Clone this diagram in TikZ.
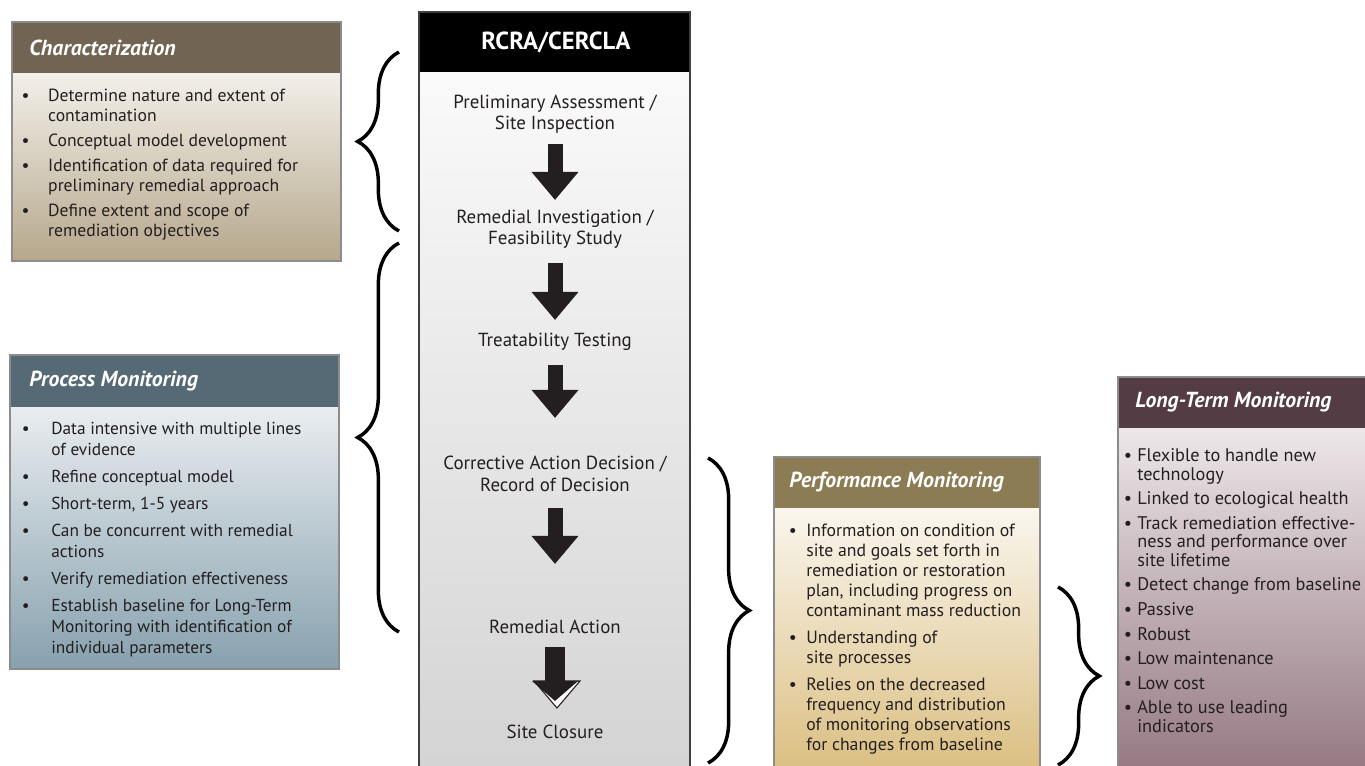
\documentclass[tikz,border=0pt]{standalone}
\usepackage{fontspec}
\setmainfont{PT Sans}
\usepackage{xcolor}
\usetikzlibrary{arrows.meta,decorations.pathreplacing}

\definecolor{charhead}{HTML}{716452}
\definecolor{chartop}{HTML}{F3F0EA}
\definecolor{charbot}{HTML}{B6A78C}
\definecolor{prochead}{HTML}{566A75}
\definecolor{proctop}{HTML}{E9EDF0}
\definecolor{procbot}{HTML}{87A1AE}
\definecolor{perfhead}{HTML}{8C7C54}
\definecolor{perftop}{HTML}{FAF6EE}
\definecolor{perfbot}{HTML}{DBBF82}
\definecolor{ltmhead}{HTML}{533C44}
\definecolor{ltmtop}{HTML}{EDE7E9}
\definecolor{ltmbot}{HTML}{957983}
\definecolor{inkblack}{HTML}{231F20}

\newcommand{\bl}{\textbullet}

\tikzset{
  boxline/.style={draw=black!45, line width=0.8pt},
  headtext/.style={anchor=west, inner sep=0pt, text=white, font=\fontsize{16.3}{18}\selectfont\bfseries\itshape},
  bodytext/.style={anchor=north west, inner sep=0pt, text=inkblack, font=\fontsize{13.2}{15}\selectfont},
  steptext/.style={align=center, inner sep=0pt, text=inkblack, font=\fontsize{14.2}{16}\selectfont},
  blockarrow/.style={line width=11.25pt, draw=inkblack, -{Triangle[width=33.75pt,length=21pt]}},
  bracket/.style={decorate, decoration={brace, amplitude=31pt}, line width=2.6pt, draw=black},
}

\begin{document}
\begin{tikzpicture}[x=0.75pt,y=0.75pt,yscale=-1,xscale=1]
    \useasboundingbox (0,0) rectangle (1365,766);

    %Shape: Rectangle [characterization]
    \shade[top color=chartop, bottom color=charbot] (12,73) rectangle (341,261);
    \fill[charhead] (12,22) rectangle (341,73);
    \draw[boxline] (12,22) rectangle (341,261);
    %Shape: Rectangle [process monitoring]
    \shade[top color=proctop, bottom color=procbot] (10,407) rectangle (339,669);
    \fill[prochead] (10,355) rectangle (339,407);
    \draw[boxline] (10,355) rectangle (339,669);
    %Shape: Rectangle [performance monitoring]
    \shade[top color=perftop, bottom color=perfbot] (774,508) rectangle (1040,770);
    \fill[perfhead] (774,457) rectangle (1040,508);
    \draw[boxline] (774,457) rectangle (1040,770);
    %Shape: Rectangle [long-term monitoring]
    \shade[top color=ltmtop, bottom color=ltmbot] (1118,428) rectangle (1370,770);
    \fill[ltmhead] (1118,377) rectangle (1370,428);
    \draw[boxline] (1118,377) rectangle (1370,770);
    %Shape: Rectangle [RCRA/CERCLA column]
    \shade[top color=black!2, bottom color=black!17] (419,72) rectangle (690,770);
    \fill[black] (419,12) rectangle (690,72);
    \draw[draw=black!75, line width=1pt] (419,12) rectangle (690,770);

    %Braces
    \draw[bracket] (399,231) -- (399,52);
    \draw[bracket] (399,632) -- (399,243);
    \draw[bracket] (708,458) -- (708,763);
    \draw[bracket] (1058,587) -- (1058,765);

    % Text Node
    \node[headtext] (charhd) at (29,47.5) {Characterization};
    % Text Node
    \node[headtext] (prochd) at (29,381) {Process Monitoring};
    % Text Node
    \node[headtext] (perfhd) at (789,482.5) {Performance Monitoring};
    % Text Node
    \node[headtext] (ltmhd) at (1135,402.5) {Long-Term Monitoring};
    % Text Node
    \node[text=white, inner sep=0pt, font=\fontsize{18.5}{20}\selectfont\bfseries] (rcra) at (556,42) {RCRA/CERCLA};

    % Text Node
    \node[bodytext] (charbody) at (21.3,87) {\begin{tabular}{@{}p{20pt}@{}l@{}}
      \bl & Determine nature and extent of\\
          & contamination\\[3.75pt]
      \bl & Conceptual model development\\[3.75pt]
      \bl & Identification of data required for\\
          & preliminary remedial approach\\[3.75pt]
      \bl & Define extent and scope of\\
          & remediation objectives
    \end{tabular}};
    % Text Node
    \node[bodytext, font=\fontsize{13}{15.75}\selectfont] (procbody) at (21.7,420) {\begin{tabular}{@{}p{22pt}@{}l@{}}
      \bl & Data intensive with multiple lines\\
          & of evidence\\[4.5pt]
      \bl & Refine conceptual model\\[4.5pt]
      \bl & Short-term, 1-5 years\\[4.5pt]
      \bl & Can be concurrent with remedial\\
          & actions\\[4.5pt]
      \bl & Verify remediation effectiveness\\[4.5pt]
      \bl & Establish baseline for Long-Term\\
          & Monitoring with identification of\\
          & individual parameters
    \end{tabular}};
    % Text Node
    \node[bodytext, font=\fontsize{13.3}{15}\selectfont] (perfbody) at (788.7,522) {\begin{tabular}{@{}p{13pt}@{}l@{}}
      \bl & Information on condition of\\
          & site and goals set forth in\\
          & remediation or restoration\\
          & plan, including progress on\\
          & contaminant mass reduction\\[5.25pt]
      \bl & Understanding of\\
          & site processes\\[5.25pt]
      \bl & Relies on the decreased\\
          & frequency and distribution\\
          & of monitoring observations\\
          & for changes from baseline
    \end{tabular}};
    % Text Node
    \node[bodytext, font=\fontsize{13.7}{14}\selectfont] (ltmbody) at (1123.7,448) {\begin{tabular}{@{}p{10pt}@{}l@{}}
      \bl & Flexible to handle new\\
          & technology\\[4.4pt]
      \bl & Linked to ecological health\\[4.4pt]
      \bl & Track remediation effective-\\
          & ness and performance over\\
          & site lifetime\\[4.4pt]
      \bl & Detect change from baseline\\[4.4pt]
      \bl & Passive\\[4.4pt]
      \bl & Robust\\[4.4pt]
      \bl & Low maintenance\\[4.4pt]
      \bl & Low cost\\[4.4pt]
      \bl & Able to use leading\\
          & indicators
    \end{tabular}};

    % Text Node
    \node[steptext] (pa) at (555,114) {Preliminary Assessment /\\Site Inspection};
    % Text Node
    \node[steptext] (ri) at (555,229) {Remedial Investigation /\\Feasibility Study};
    % Text Node
    \node[steptext] (tt) at (555,342) {Treatability Testing};
    % Text Node
    \node[steptext] (cad) at (555,474) {Corrective Action Decision /\\Record of Decision};
    % Text Node
    \node[steptext] (ra) at (555,627) {Remedial Action};
    % Text Node
    \node[steptext] (sc) at (555,732) {Site Closure};

    %Hollow head behind the last arrow
    \draw[fill=white, draw=inkblack, line width=0.8pt, line join=miter] (534,681) -- (580,681) -- (557,708) -- cycle;

    %Block arrows
    \draw[blockarrow, shorten <=22.5pt, shorten >=21.75pt] (pa.center) -- (ri.center);
    \draw[blockarrow, shorten <=25.5pt, shorten >=16.5pt] (ri.center) -- (tt.center);
    \draw[blockarrow, shorten <=17.25pt, shorten >=42pt] (tt.center) -- (cad.center);
    \draw[blockarrow, shorten <=25.5pt, shorten >=47.25pt] (cad.center) -- (ra.center);
    \draw[blockarrow, line width=15pt, -{Triangle[width=33.75pt,length=15pt]}, shorten <=15pt, shorten >=23.25pt] (ra.center) -- (sc.center);

\end{tikzpicture}
\end{document}
